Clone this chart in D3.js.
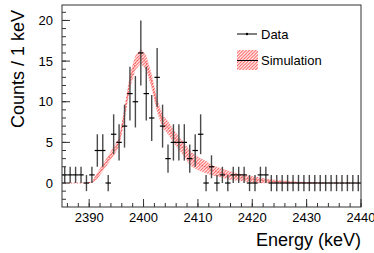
<!DOCTYPE html>
<html>
<head>
<meta charset="utf-8">
<script src="https://cdn.jsdelivr.net/npm/d3@7"></script>
<style>
  body { margin: 0; background: #fff; }
  text { font-family: "Liberation Sans", Arial, sans-serif; fill: #000; }
</style>
</head>
<body>
<div id="chart"></div>
<script>
"use strict";

// bin centres (keV), 1 keV bins
var energy = [2385.5, 2386.5, 2387.5, 2388.5, 2389.5, 2390.5, 2391.5, 2392.5, 2393.5, 2394.5,
  2395.5, 2396.5, 2397.5, 2398.5, 2399.5, 2400.5, 2401.5, 2402.5, 2403.5, 2404.5,
  2405.5, 2406.5, 2407.5, 2408.5, 2409.5, 2410.5, 2411.5, 2412.5, 2413.5, 2414.5,
  2415.5, 2416.5, 2417.5, 2418.5, 2419.5, 2420.5, 2421.5, 2422.5, 2423.5, 2424.5,
  2425.5, 2426.5, 2427.5, 2428.5, 2429.5, 2430.5, 2431.5, 2432.5, 2433.5, 2434.5,
  2435.5, 2436.5, 2437.5, 2438.5, 2439.5];

// measured counts per bin
var counts = [1, 1, 1, 1, 0, 1, 4, 4, 0, 6,
  5, 7, 11, 10, 16, 11, 8, 13, 7, 3,
  5, 5, 5, 3, 4, 6, 0, 2, 0, 1,
  0, 1, 1, 1, 0, 0, 1, 1, 0, 0,
  0, 0, 0, 0, 0, 0, 0, 0, 0, 0,
  0, 0, 0, 0, 0];

// simulated spectrum and its uncertainty
var simValue = [0, 0, 0, 0, 0.02, 0.1, 0.9, 1.9, 2.9, 3.9,
  5.0, 8.5, 12.5, 14.8, 15.6, 14.8, 12.5, 9.5, 7.6, 6.8,
  5.8, 4.9, 4.1, 3.1, 2.6, 2.25, 1.95, 1.6, 1.4, 1.2,
  1.0, 0.85, 0.72, 0.6, 0.5, 0.4, 0.33, 0.27, 0.21, 0.17,
  0.13, 0.1, 0.08, 0.06, 0.05, 0.04, 0.03, 0.02, 0.015, 0.01,
  0, 0, 0, 0, 0];
var simErr = [0, 0, 0, 0, 0.02, 0.1, 0.4, 0.45, 0.5, 0.55,
  0.6, 0.8, 0.9, 0.9, 0.9, 0.9, 0.9, 0.85, 0.8, 0.8,
  0.8, 0.8, 0.85, 0.9, 0.85, 0.8, 0.75, 0.65, 0.6, 0.55,
  0.55, 0.5, 0.45, 0.45, 0.4, 0.4, 0.35, 0.3, 0.25, 0.2,
  0.18, 0.15, 0.12, 0.1, 0.08, 0.06, 0.05, 0.04, 0.03, 0.02,
  0, 0, 0, 0, 0];

var xTicks = [2390, 2400, 2410, 2420, 2430, 2440];
var yTicks = [0, 5, 10, 15, 20];
var legendLabels = ["Data", "Simulation"];

var W = 374, H = 253;
var margin = { top: 5, right: 13, bottom: 46, left: 62 };
var width = W - margin.left - margin.right,
    height = H - margin.top - margin.bottom;

var svg = d3.select("#chart").append("svg")
    .attr("width", W)
    .attr("height", H);

var defs = svg.append("defs");
var hatch = defs.append("pattern")
    .attr("id", "hatch")
    .attr("patternUnits", "userSpaceOnUse")
    .attr("width", 3.2)
    .attr("height", 3.2);
hatch.append("path")
    .attr("d", "M-1,1 L1,-1 M0,3.2 L3.2,0 M2.2,4.2 L4.2,2.2")
    .attr("stroke", "#ff5a5a")
    .attr("stroke-width", 1);

var x = d3.scaleLinear().domain([2385, 2440]).range([0, width]);
var y = d3.scaleLinear().domain([-2.95, 21.9]).range([height, 0]);

var g = svg.append("g")
    .attr("transform", "translate(" + margin.left + "," + margin.top + ")");

var clip = defs.append("clipPath").attr("id", "plotclip");
clip.append("rect").attr("width", width).attr("height", height);

var plot = g.append("g").attr("clip-path", "url(#plotclip)");

// simulation band
var sim = energy.map(function (e, i) { return { e: e, v: simValue[i], err: simErr[i] }; });
plot.append("path")
    .datum(sim)
    .attr("fill", "url(#hatch)")
    .attr("stroke", "none")
    .attr("d", d3.area()
        .x(function (d) { return x(d.e); })
        .y0(function (d) { return y(d.v - d.err); })
        .y1(function (d) { return y(d.v + d.err); }));
plot.append("path")
    .datum(sim)
    .attr("fill", "none")
    .attr("stroke", "#e83030")
    .attr("stroke-width", 1)
    .attr("stroke-dasharray", "1.5,1.5")
    .attr("opacity", 0.7)
    .attr("d", d3.line()
        .x(function (d) { return x(d.e); })
        .y(function (d) { return y(d.v); }));

// data points with error bars
var pts = energy.map(function (e, i) {
    var n = counts[i];
    return { e: e, n: n, err: n > 0 ? Math.sqrt(n) : 1 };
});
var pg = plot.selectAll(".pt").data(pts).enter().append("g").attr("class", "pt");
pg.append("line")
    .attr("x1", function (d) { return x(d.e); })
    .attr("x2", function (d) { return x(d.e); })
    .attr("y1", function (d) { return y(d.n - d.err); })
    .attr("y2", function (d) { return y(d.n + d.err); })
    .attr("stroke", "#4a4a4a")
    .attr("stroke-width", 1.4);
pg.append("line")
    .attr("x1", function (d) { return x(d.e - 0.5); })
    .attr("x2", function (d) { return x(d.e + 0.5); })
    .attr("y1", function (d) { return y(d.n); })
    .attr("y2", function (d) { return y(d.n); })
    .attr("stroke", "#000")
    .attr("stroke-width", 1.2);

// frame
g.append("rect")
    .attr("width", width)
    .attr("height", height)
    .attr("fill", "none")
    .attr("stroke", "#333")
    .attr("stroke-width", 1);

// x axis ticks (inward)
var xMinor = d3.range(2386, 2441, 2);
g.selectAll(".xminor").data(xMinor).enter().append("line")
    .attr("x1", function (d) { return x(d); })
    .attr("x2", function (d) { return x(d); })
    .attr("y1", height)
    .attr("y2", height - 4)
    .attr("stroke", "#333");
g.selectAll(".xmajor").data(xTicks).enter().append("line")
    .attr("x1", function (d) { return x(d); })
    .attr("x2", function (d) { return x(d); })
    .attr("y1", height)
    .attr("y2", height - 8)
    .attr("stroke", "#333");
g.selectAll(".xlab").data(xTicks).enter().append("text")
    .attr("x", function (d) { return x(d); })
    .attr("y", height + 15)
    .attr("text-anchor", "middle")
    .attr("font-size", "13px")
    .text(function (d) { return d; });

// y axis ticks (inward)
var yMinor = d3.range(-2, 22, 1);
g.selectAll(".yminor").data(yMinor).enter().append("line")
    .attr("x1", 0)
    .attr("x2", 4)
    .attr("y1", function (d) { return y(d); })
    .attr("y2", function (d) { return y(d); })
    .attr("stroke", "#333");
g.selectAll(".ymajor").data(yTicks).enter().append("line")
    .attr("x1", 0)
    .attr("x2", 8)
    .attr("y1", function (d) { return y(d); })
    .attr("y2", function (d) { return y(d); })
    .attr("stroke", "#333");
g.selectAll(".ylab").data(yTicks).enter().append("text")
    .attr("x", -9)
    .attr("y", function (d) { return y(d); })
    .attr("dy", "0.36em")
    .attr("text-anchor", "end")
    .attr("font-size", "13px")
    .text(function (d) { return d; });

// axis titles
svg.append("text")
    .attr("x", margin.left + width)
    .attr("y", 246)
    .attr("text-anchor", "end")
    .attr("font-size", "18px")
    .text("Energy (keV)");
svg.append("text")
    .attr("transform", "translate(24," + 10 + ") rotate(-90)")
    .attr("text-anchor", "end")
    .attr("font-size", "18px")
    .text("Counts / 1 keV");

// legend
var lg = svg.append("g").attr("transform", "translate(237,34)");
lg.append("line").attr("x1", 0).attr("x2", 20).attr("y1", 0).attr("y2", 0)
    .attr("stroke", "#000").attr("stroke-width", 1);
lg.append("circle").attr("cx", 10).attr("cy", 0).attr("r", 1.2).attr("fill", "#000");
lg.append("text").attr("x", 24).attr("y", 5).attr("font-size", "13px").text(legendLabels[0]);
lg.append("rect").attr("x", 0).attr("y", 16).attr("width", 21).attr("height", 20)
    .attr("fill", "url(#hatch)");
lg.append("line").attr("x1", 0).attr("x2", 21).attr("y1", 26.5).attr("y2", 26.5)
    .attr("stroke", "#000").attr("stroke-width", 1);
lg.append("text").attr("x", 24).attr("y", 31).attr("font-size", "13px").text(legendLabels[1]);
</script>
</body>
</html>
